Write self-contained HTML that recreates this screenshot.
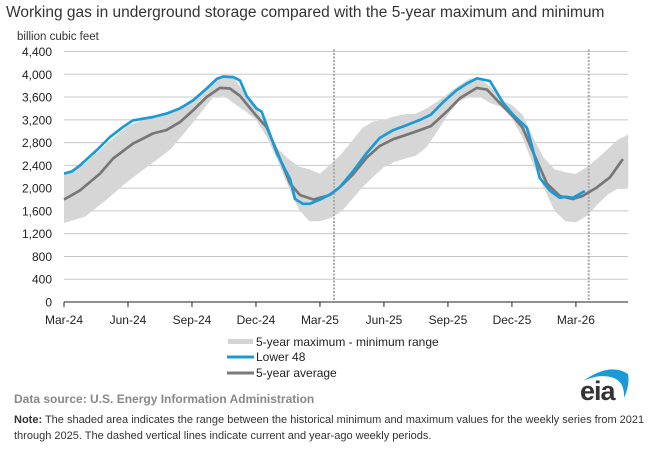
<!DOCTYPE html>
<html><head><meta charset="utf-8"><style>
body{margin:0;background:#fff;font-family:"Liberation Sans",Arial,sans-serif;}
svg text{font-family:"Liberation Sans",Arial,sans-serif;}
</style></head><body>
<svg id="chart" width="655" height="450" viewBox="0 0 655 450" xmlns="http://www.w3.org/2000/svg">
<text x="6" y="17" font-size="15.5" fill="#333">Working gas in underground  storage compared with the 5-year maximum and minimum</text>
<text x="17" y="40" font-size="11.5" fill="#333">billion cubic feet</text>
<g id="grid"></g>
<g id="band"></g>
<g id="lines"></g>
<g id="axes"></g>
<g>
<rect x="228" y="339" width="25" height="5" fill="#d4d4d4"/>
<text x="256" y="346" font-size="12" fill="#222">5-year maximum - minimum range</text>
<line x1="227" y1="357" x2="254" y2="357" stroke="#1a9bd7" stroke-width="3"/>
<text x="256" y="361" font-size="12" fill="#222">Lower 48</text>
<line x1="227" y1="373" x2="254" y2="373" stroke="#7a7a7a" stroke-width="3"/>
<text x="256" y="377" font-size="12" fill="#222">5-year average</text>
</g>
<text x="14" y="403" font-size="12" font-weight="bold" fill="#888">Data source:  U.S. Energy Information Administration</text>
<g>
<path d="M583 381 Q610 362 628 374 Q630 385 624 398 Q625 383 614 378 Q600 373 583 381Z" fill="#1a9bd7"/>
<text x="580" y="400" font-size="27" font-weight="bold" fill="#333" letter-spacing="-1">eia</text>
</g>
<text x="14" y="423" font-size="11" fill="#333"><tspan font-weight="bold">Note:</tspan> The shaded area indicates the range between the historical minimum and maximum values for the weekly series from 2021</text>
<text x="14" y="439" font-size="11" fill="#333">through 2025. The dashed vertical lines indicate current and year-ago weekly periods.</text>
</svg>
<script>
const yTicks=[0,400,800,1200,1600,2000,2400,2800,3200,3600,4000,4400];
const xLabels=["Mar-24","Jun-24","Sep-24","Dec-24","Mar-25","Jun-25","Sep-25","Dec-25","Mar-26"];
const xLabelMonths=[0,3,6,9,12,15,18,21,24];
const dashedMonths=[12.66,24.6];
const rangeMonths=[0,1,2,3,4,5,6,7,7.5,8,8.5,9,9.5,10,10.5,11,11.5,12,12.5,13,13.5,14,14.5,15,15.5,16,16.5,17,17.5,18,18.5,19,19.5,20,20.5,21,21.5,22,22.5,23,23.5,24,24.5,25,25.5,26,26.45];
const maxVals=[2260,2440,2780,3100,3240,3350,3540,3900,3960,3920,3650,3400,3120,2700,2520,2380,2330,2250,2420,2600,2830,3060,3170,3200,3260,3300,3310,3400,3520,3660,3800,3920,3920,3780,3550,3460,3290,2880,2530,2330,2280,2250,2370,2520,2690,2860,2940];
const minVals=[1390,1500,1800,2120,2400,2680,3130,3600,3620,3480,3350,3200,2900,2500,2040,1630,1420,1420,1475,1590,1800,2020,2200,2370,2460,2520,2570,2720,3000,3290,3520,3600,3600,3490,3430,3230,2880,2410,2000,1600,1420,1400,1510,1710,1890,2000,2020];
const l48Months=[0,0.36,0.75,1.53,2.16,2.77,3.23,4.17,4.8,5.44,6.06,6.69,7.17,7.47,7.94,8.25,8.56,9.02,9.27,9.97,10.36,10.6,10.83,11.2,11.53,12,12.47,12.94,13.56,14.2,14.8,15.44,16.1,16.7,17.2,17.8,18.4,18.9,19.36,19.97,20.6,21.05,21.7,22.0,22.3,22.8,23.25,23.56,23.86,24.42];
const l48Vals=[2255,2290,2400,2665,2900,3075,3190,3250,3310,3400,3545,3750,3920,3960,3950,3890,3620,3400,3340,2620,2330,2160,1810,1725,1725,1800,1890,2020,2300,2620,2880,3020,3110,3200,3290,3520,3720,3840,3930,3880,3490,3290,3060,2650,2180,1950,1830,1850,1830,1950];
const avgMonths=[0,0.75,1.69,2.3,3.23,4.17,4.8,5.44,6.06,6.69,7.31,7.78,8.25,9.02,9.5,9.97,10.6,11.06,11.69,12.47,12.94,13.56,14.2,14.8,15.44,16.4,17.2,17.96,18.56,19.36,19.83,20.44,21.05,21.5,22.17,22.64,23.25,23.86,24.3,24.97,25.6,26.2];
const avgVals=[1800,1960,2255,2520,2780,2960,3020,3160,3370,3600,3760,3750,3620,3270,3070,2660,2080,1880,1800,1880,2020,2245,2540,2740,2860,2980,3090,3350,3580,3760,3730,3490,3260,3060,2480,2080,1860,1810,1860,2010,2190,2510];

const NS="http://www.w3.org/2000/svg";
const X0=64,XEND=628,Y0=302,YTOP=51.5,VMAX=4400,PPM=21.33;
function xs(m){return X0+m*PPM;}
function ys(v){return Y0-(v/VMAX)*(Y0-YTOP);}
function mk(tag,attrs,parent){const e=document.createElementNS(NS,tag);for(const k in attrs)e.setAttribute(k,attrs[k]);parent.appendChild(e);return e;}
const grid=document.getElementById('grid'),axes=document.getElementById('axes'),band=document.getElementById('band'),lines=document.getElementById('lines');
yTicks.forEach(v=>{
  if(v>0){const g=mk('line',{x1:X0,x2:XEND,y1:ys(v),y2:ys(v),stroke:'#c8c8c8','stroke-width':1},grid);
  
  }
  const t=mk('text',{x:52,y:ys(v)+4.5,'font-size':12,'text-anchor':'end',fill:'#222'},axes);t.textContent=v.toLocaleString('en-US');
  
  
});
mk('line',{x1:X0,x2:XEND,y1:Y0,y2:Y0,stroke:'#222','stroke-width':1},axes);
xLabels.forEach((lab,i)=>{
  const x=xs(xLabelMonths[i]);
  mk('line',{x1:x,x2:x,y1:Y0,y2:Y0+5,stroke:'#222'},axes);
  const t=mk('text',{x:x,y:Y0+22,'font-size':12,'text-anchor':'middle',fill:'#222'},axes);t.textContent=lab;
  
  
});
let d='';
rangeMonths.forEach((m,i)=>{d+=(i?'L':'M')+xs(m).toFixed(1)+' '+ys(maxVals[i]).toFixed(1);});
for(let i=rangeMonths.length-1;i>=0;i--)d+='L'+xs(rangeMonths[i]).toFixed(1)+' '+ys(minVals[i]).toFixed(1);
const bp=mk('path',{d:d+'Z',fill:'#d6d6d6'},band);


dashedMonths.forEach(m=>{
  const l=mk('line',{x1:xs(m),x2:xs(m),y1:YTOP-2,y2:Y0,stroke:'#aaa','stroke-width':2,'stroke-dasharray':'2,1.5'},band);
  
  
});
function poly(ms,vs,col,name){
  const p=mk('polyline',{points:ms.map((m,i)=>xs(m).toFixed(1)+','+ys(vs[i]).toFixed(1)).join(' '),fill:'none',stroke:col,'stroke-width':2.7,'stroke-linejoin':'round'},lines);
  
  
}
poly(avgMonths,avgVals,'#777','average-line');
poly(l48Months,l48Vals,'#1a9bd7','lower48-line');
</script>
</body></html>
